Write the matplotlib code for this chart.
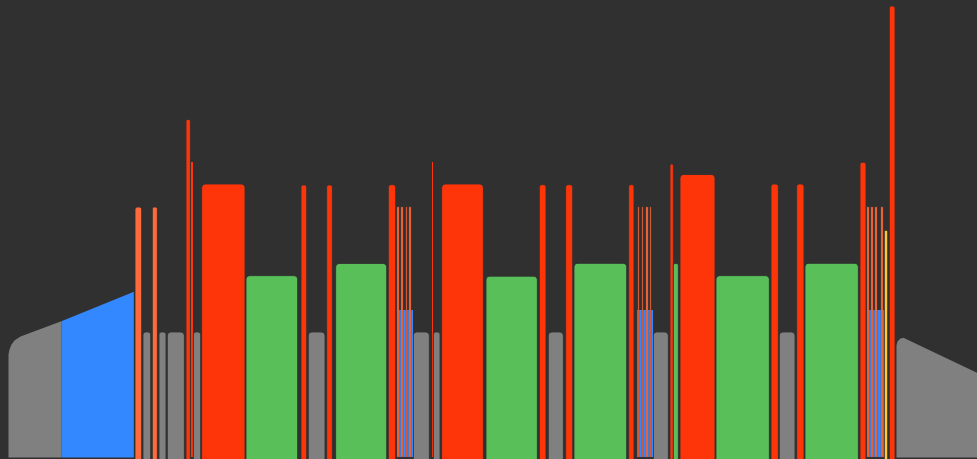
import matplotlib
matplotlib.use("Agg")
import matplotlib.pyplot as plt
from matplotlib.patches import FancyBboxPatch

# timeline segments: start, end, height, kind
seg_start = [135, 143, 152.3, 159, 167.3, 186, 191, 193.3, 201.7, 246,
             301, 308.3, 326.7, 335.7, 388.3, 413.3, 431.7, 433.3, 441.7, 486,
             539.3, 548.3, 565.7, 574, 628.7, 653.3, 670, 673.3, 680, 716,
             771, 779.3, 796.7, 805, 860, 884.3, 889.3]
seg_end = [141.7, 150.7, 157.3, 166, 184.3, 190.3, 193.3, 200.7, 245, 297.7,
           306.7, 325, 332.3, 386.7, 395.7, 429.3, 433.3, 440, 483.3, 537.3,
           546, 563.3, 572.7, 626.7, 634, 668.3, 673.3, 678.3, 715, 769.3,
           778.3, 795, 804, 858.3, 866, 887.7, 895]
seg_height = [250, 125, 250, 125, 125, 337.5, 295, 125, 273, 181.3,
              272, 125, 272, 193.5, 272.3, 125, 294.7, 125, 273, 180.8,
              272.3, 125, 272.3, 193.7, 272.3, 125, 293, 193.5, 282.5, 181.3,
              273, 125, 273, 193.7, 294.7, 226.7, 451]
seg_kind = ["orange", "gray", "orange", "gray", "gray", "red", "red", "gray", "red", "green",
            "red", "gray", "red", "green", "red", "gray", "red", "gray", "red", "green",
            "red", "gray", "red", "green", "red", "gray", "red", "green", "red", "green",
            "red", "gray", "red", "green", "red", "yellow", "red"]

# striped blocks: blue base with thin orange lines
stripe_start = [396.7, 637.3, 866.7]
stripe_end = [412.7, 652.7, 884.0]
stripe_height = [147.3, 147.3, 147.3]
stripe_lines = [[397.3, 401.0, 405.7, 409.3],
                [637.8, 641.5, 646.2, 649.8],
                [866.7, 871.0, 875.0, 880.7]]
stripe_line_w = [[1.5, 1.7, 1.6, 1.4],
                 [1.5, 1.7, 1.6, 1.4],
                 [2.6, 2.3, 2.3, 2.0]]
stripe_line_height = [250.3, 250.3, 250.3]

# sloped ramps at both ends
ramp_gray_x = [8, 9, 11, 14, 20, 61]
ramp_gray_h = [103, 108, 113, 117, 121, 136.3]
ramp_blue_x = [61, 133.3]
ramp_blue_h = [136.3, 165.7]
ramp_right_x = [896, 897, 900, 903, 978]
ramp_right_h = [112, 116, 119, 119.7, 84]

colors = {"red": "#ff350a", "orange": "#ff6a3c", "gray": "#808080",
          "green": "#59bf59", "blue": "#3388ff", "yellow": "#ffc933"}
bg = "#303030"

fig = plt.figure(figsize=(9.78, 4.6), dpi=100)
fig.patch.set_facecolor(bg)
ax = fig.add_axes([0, 0, 1, 1])
ax.set_facecolor(bg)
ax.set_xlim(0, 978)
ax.set_ylim(-2, 458)
ax.axis("off")

# ramps
ax.fill_between(ramp_gray_x, 0, ramp_gray_h, color=colors["gray"], lw=0)
ax.fill_between(ramp_blue_x, 0, ramp_blue_h, color=colors["blue"], lw=0)
ax.fill_between(ramp_right_x, 0, ramp_right_h, color=colors["gray"], lw=0)


def add_bar(x0, x1, h, c):
    w = x1 - x0
    r = min(4.0, w * 0.35)
    if w < 2.5:
        ax.bar(x0, h, width=w, bottom=0, align="edge", color=c, lw=0)
        return
    p = FancyBboxPatch((x0, -10), w, h + 10,
                       boxstyle=f"round,pad=0,rounding_size={r}",
                       fc=c, ec=bg, lw=0.6)
    ax.add_patch(p)


for s, e, h, k in zip(seg_start, seg_end, seg_height, seg_kind):
    add_bar(s, e, h, colors[k])

for s, e, h, xs, ws, lh in zip(stripe_start, stripe_end, stripe_height,
                               stripe_lines, stripe_line_w, stripe_line_height):
    ax.bar(s, h, width=e - s, bottom=0, align="edge", color=colors["blue"], lw=0)
    for lx, lw_ in zip(xs, ws):
        ax.bar(lx, lh, width=lw_, bottom=0, align="edge",
               color=colors["orange"], edgecolor="#8a4530", lw=0.3)

fig.savefig("out.png", dpi=100, facecolor=bg)
